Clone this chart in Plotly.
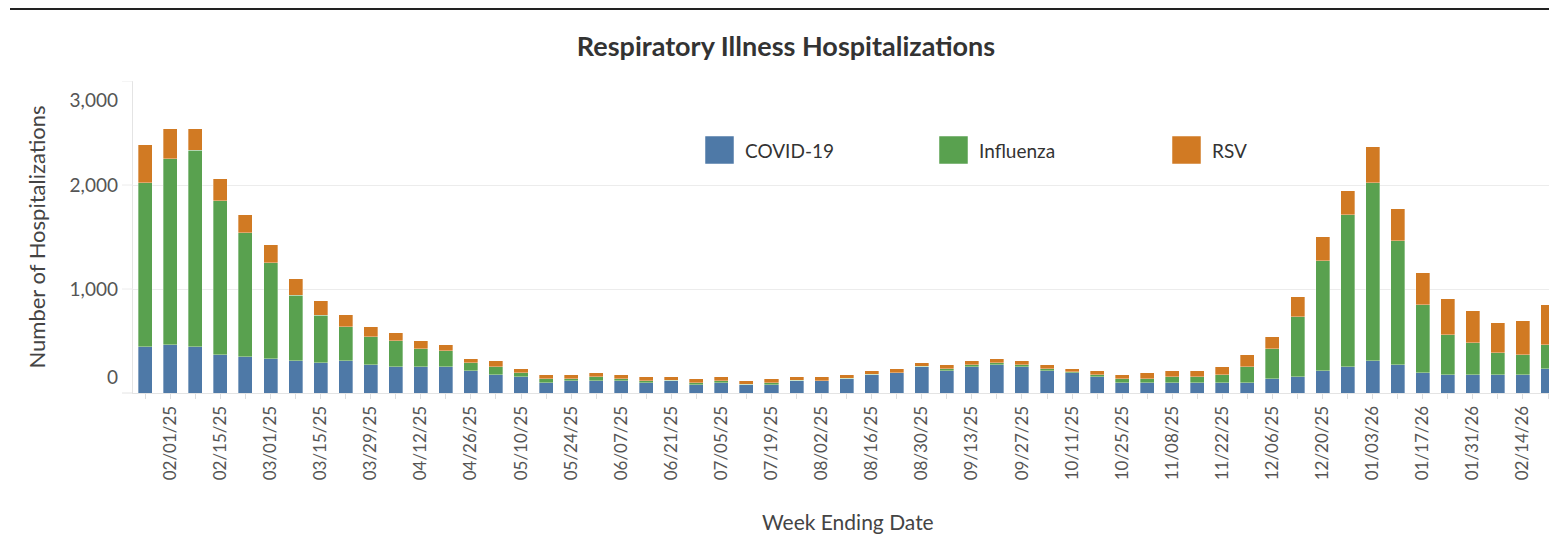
import plotly.graph_objects as go
import pandas as pd

weeks = [
    "2025-01-25", "2025-02-01", "2025-02-08", "2025-02-15", "2025-02-22", "2025-03-01",
    "2025-03-08", "2025-03-15", "2025-03-22", "2025-03-29", "2025-04-05", "2025-04-12",
    "2025-04-19", "2025-04-26", "2025-05-03", "2025-05-10", "2025-05-17", "2025-05-24",
    "2025-05-31", "2025-06-07", "2025-06-14", "2025-06-21", "2025-06-28", "2025-07-05",
    "2025-07-12", "2025-07-19", "2025-07-26", "2025-08-02", "2025-08-09", "2025-08-16",
    "2025-08-23", "2025-08-30", "2025-09-06", "2025-09-13", "2025-09-20", "2025-09-27",
    "2025-10-04", "2025-10-11", "2025-10-18", "2025-10-25", "2025-11-01", "2025-11-08",
    "2025-11-15", "2025-11-22", "2025-11-29", "2025-12-06", "2025-12-13", "2025-12-20",
    "2025-12-27", "2026-01-03", "2026-01-10", "2026-01-17", "2026-01-24", "2026-01-31",
    "2026-02-07", "2026-02-14", "2026-02-21",
]

covid = [445, 465, 445, 369, 349, 330, 311, 292, 311, 272, 253, 253,
         253, 215, 176, 157, 99, 118, 118, 118, 99, 118, 80, 99,
         80, 80, 118, 118, 138, 176, 195, 253, 215, 253, 272, 253,
         215, 195, 157, 99, 99, 99, 99, 99, 99, 138, 157, 215,
         253, 311, 272, 195, 176, 176, 176, 176, 234]

influenza = [1577, 1788, 1888, 1480, 1192, 923, 628, 458, 327, 270, 250, 173,
             154, 77, 77, 38, 39, 20, 39, 20, 19, 6, 19, 19,
             4, 19, 6, 2, 2, 2, 2, 2, 19, 19, 20, 19,
             19, 10, 19, 39, 39, 58, 58, 77, 154, 288, 577, 1057,
             1461, 1711, 1192, 654, 385, 308, 212, 193, 231]

rsv = [366, 288, 208, 212, 173, 173, 160, 138, 115, 96, 77, 77,
       58, 38, 58, 39, 38, 38, 38, 38, 39, 33, 39, 39,
       34, 39, 33, 37, 36, 37, 37, 37, 38, 39, 38, 39,
       38, 29, 39, 38, 57, 58, 58, 77, 116, 116, 192, 231,
       231, 346, 308, 308, 346, 307, 288, 326, 384]

series_names = ["COVID-19", "Influenza", "RSV"]
series_colors = ["#4E79A7", "#59A14F", "#D17A23"]
ytick_text = ["0", "1,000", "2,000", "3,000"]

# ---- geometry in page pixels (body margin removed by post_script) ----
W, H = 1549, 549
PL, PR, PT, PB = 133, 1549, 81, 393
pw, ph = PR - PL, PB - PT


def px_x(p):
    return (p - PL) / pw


def px_y(p):
    return (PB - p) / ph


dates = pd.to_datetime(weeks)
week = pd.Timedelta(days=7)
x_start = dates[0] - week * 0.49
x_end = dates[-1] + week * 0.04

fig = go.Figure()
for name, vals, col in zip(series_names, [covid, influenza, rsv], series_colors):
    fig.add_trace(go.Bar(
        x=dates, y=vals, name=name, marker_color=col,
        marker_line=dict(width=0.6, color="rgba(255,255,255,0.55)"),
        showlegend=False,
    ))

# invisible trace to activate the label axis
fig.add_trace(go.Scatter(x=[dates[0]], y=[None], yaxis="y2", mode="markers",
                         showlegend=False, hoverinfo="skip"))

FONT = "Lato"
fig.update_layout(
    width=W, height=H, autosize=False,
    margin=dict(l=PL, r=W - PR, t=PT, b=H - PB),
    paper_bgcolor="white", plot_bgcolor="white",
    barmode="stack", bargap=0.44,
    font=dict(family=FONT, color="#555555"),
    title=dict(text="<b>Respiratory Illness Hospitalizations</b>",
               font=dict(family=FONT, size=27, color="#333333"),
               x=786 / W, xref="container", xanchor="center",
               y=1 - 47 / H, yref="container", yanchor="middle"),
    xaxis=dict(
        type="date", range=[x_start, x_end],
        tick0="2025-02-01", dtick=14 * 86400000, tickformat="%m/%d/%y",
        tickangle=-90, tickfont=dict(size=17, color="#555555"),
        ticks="outside", ticklen=5, tickcolor="#dddddd",
        minor=dict(tick0="2025-01-25", dtick=7 * 86400000, ticks="outside",
                   ticklen=5, tickcolor="#dddddd", showgrid=False),
        showgrid=False, showline=True, linecolor="#e4e4e4", linewidth=1,
        automargin=False,
    ),
    yaxis=dict(
        range=[0, 3000], tickvals=[0, 1000, 2000, 3000], showticklabels=False,
        ticks="", showgrid=True, gridcolor="#ececec", gridwidth=1,
        zeroline=False, showline=True, linecolor="#e4e4e4",
        title=dict(text="Number of Hospitalizations",
                   font=dict(size=22, color="#444444"), standoff=80),
        automargin=False,
    ),
    yaxis2=dict(
        overlaying="y", side="left", anchor="x", range=[0, 3000],
        tickvals=[154, 1000, 2000, 2817], ticktext=ytick_text,
        tickfont=dict(size=19, color="#555555"), ticks="",
        showgrid=False, zeroline=False, showline=False,
        ticklabelstandoff=14, automargin=False,
    ),
)

# x-axis title placed like the reference
fig.add_annotation(text="Week Ending Date", xref="paper", yref="paper",
                   x=px_x(848), y=px_y(521), xanchor="center", yanchor="middle",
                   showarrow=False, font=dict(family=FONT, size=21, color="#444444"))

# gridline stubs extending left of the pane, as in the reference
for v in [1000, 2000, 3000]:
    fig.add_shape(type="line", xref="paper", yref="y", x0=px_x(122), x1=0,
                  y0=v, y1=v, line=dict(color="#ececec", width=1))
fig.add_shape(type="line", xref="paper", yref="paper", x0=px_x(122), x1=0,
              y0=0, y1=0, line=dict(color="#e4e4e4", width=1))

# top rule
fig.add_shape(type="line", xref="paper", yref="paper", x0=px_x(10), x1=1,
              y0=px_y(9), y1=px_y(9), line=dict(color="#222222", width=2))

# custom legend (large swatches)
legend_sq_left = [705, 939, 1172]
for name, col, lx in zip(series_names, series_colors, legend_sq_left):
    fig.add_shape(type="rect", xref="paper", yref="paper",
                  x0=px_x(lx), x1=px_x(lx + 29), y0=px_y(164), y1=px_y(136),
                  fillcolor=col, line=dict(color="rgba(255,255,255,0.5)", width=1))
    fig.add_annotation(text=name, xref="paper", yref="paper",
                       x=px_x(lx + 38), y=px_y(150), xanchor="left", yanchor="middle",
                       showarrow=False, font=dict(family=FONT, size=19, color="#333333"))

fig.write_html(
    "out.html",
    config={"displayModeBar": False},
    post_script="document.body.style.margin='0';document.body.style.overflow='hidden';",
)
